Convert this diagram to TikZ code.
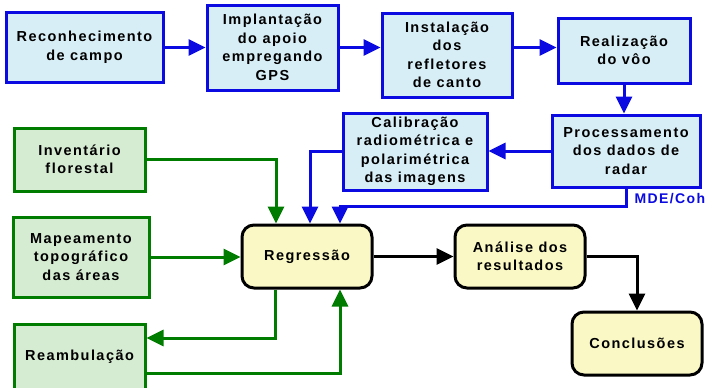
\documentclass[tikz,border=0pt]{standalone}
\usepackage{fontspec}
\setmainfont[LetterSpace=10]{Liberation Sans}
\usepackage{tikz}
\usetikzlibrary{arrows.meta}

\definecolor{lineblue}{RGB}{10,10,225}
\definecolor{linegreen}{RGB}{0,125,0}
\definecolor{fillblue}{RGB}{216,238,246}
\definecolor{fillgreen}{RGB}{214,236,210}
\definecolor{fillyellow}{RGB}{250,248,196}

\tikzset{
  flowbox/.style={draw,line width=3pt,align=center,inner sep=0pt,
    font=\bfseries\fontsize{14.5}{18.5}\selectfont},
  bluebox/.style={flowbox,draw=lineblue,fill=fillblue},
  greenbox/.style={flowbox,draw=linegreen,fill=fillgreen},
  yellowbox/.style={flowbox,draw=black,fill=fillyellow,rounded corners=12pt},
  tip/.style={line width=3pt,-{Triangle[length=17pt,width=16pt]}},
}

\begin{document}
\begin{tikzpicture}[x=1pt,y=-1pt]
                \useasboundingbox (0,0) rectangle (712,388);

                \begin{scope}[every node/.style={bluebox}]
                \node[minimum width=157pt,minimum height=70pt] (camp) at (84.5,47) {Reconhecimento\\de campo};
                \node[minimum width=131pt,minimum height=85pt] (gps) at (272.5,47.5) {Implantação\\do apoio\\empregando\\GPS};
                \node[minimum width=130pt,minimum height=84pt] (refl) at (447,55) {Instalação\\dos\\refletores\\de canto};
                \node[minimum width=132pt,minimum height=65pt] (voo) at (624,50.5) {Realização\\do vôo};
                \node[minimum width=148pt,minimum height=72pt] (radar) at (626,151) {Processamento\\dos dados de\\radar};
                \node[minimum width=144pt,minimum height=77pt] (calib) at (415,151.5) {Calibração\\radiométrica e\\polarimétrica\\das imagens};
                \end{scope}

                \begin{scope}[every node/.style={greenbox}]
                \node[minimum width=131pt,minimum height=63pt] (inv) at (79.5,159.5) {Inventário\\florestal};
                \node[minimum width=136pt,minimum height=80pt] (topo) at (81,257) {Mapeamento\\topográfico\\das áreas};
                \node[minimum width=131pt,minimum height=66pt] (ream) at (79.5,357) {Reambulação};
                \end{scope}

                \begin{scope}[every node/.style={yellowbox,minimum width=130pt,minimum height=63pt}]
                \node (regr) at (307,256.5) {Regressão};
                \node (anal) at (520,256.5) {Análise dos\\resultados};
                \node (concl) at (637,343.5) {Conclusões};
                \end{scope}

                \node[anchor=west,text=lineblue,font=\bfseries\fontsize{14}{16}\selectfont] (mde) at (631,199) {MDE/Coh};

                % fluxo do radar
                \draw[tip,lineblue] (camp.east |- gps.east) -- (gps.east -| gps.west);
                \draw[tip,lineblue] (gps.east) -- (refl.west |- gps.east);
                \draw[tip,lineblue] (refl.east |- gps.east) -- (voo.west |- gps.east);
                \draw[tip,lineblue] (voo.south) -- (radar.north -| voo.south);
                \draw[tip,lineblue] (radar.west) -- (calib.east |- radar.west);
                \draw[tip,lineblue] (calib.west) -| ([xshift=3pt]regr.north);
                \draw[tip,lineblue] (radar.south) -- ++(0,18) -| ([xshift=33pt]regr.north);

                % dados de campo
                \draw[tip,linegreen] (inv.east) -| ([xshift=-31pt]regr.north);
                \draw[tip,linegreen] (topo.east) -- (regr.west |- topo.east);
                \draw[tip,linegreen] ([xshift=-32pt]regr.south) |- ([yshift=19pt]ream.east);
                \draw[tip,linegreen] ([yshift=-16pt]ream.east) -| ([xshift=33pt]regr.south);

                % resultados
                \draw[tip,black] (regr.east) -- (anal.west |- regr.east);
                \draw[tip,black] (anal.east) -| (concl.north);
\end{tikzpicture}
\end{document}
